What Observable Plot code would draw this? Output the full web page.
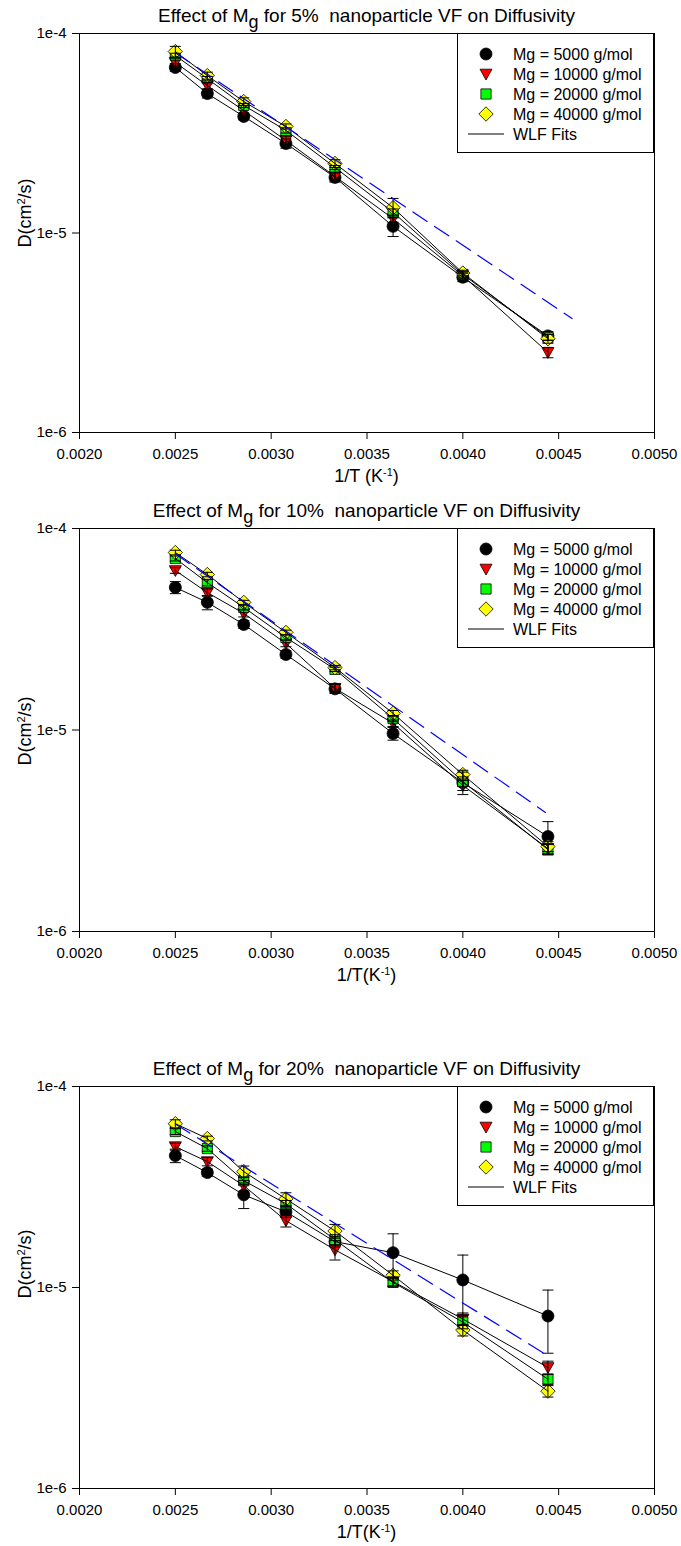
<!DOCTYPE html>
<html><head><meta charset="utf-8">
<script src="https://cdn.jsdelivr.net/npm/d3@7"></script>
<script src="https://cdn.jsdelivr.net/npm/@observablehq/plot@0.6"></script>
<style>
body{margin:0;background:#fff;}
#root{position:relative;width:681px;height:1546px;font-family:"Liberation Sans",Arial,sans-serif;color:#000;overflow:hidden;background:#fff}
.abs{position:absolute;white-space:nowrap;line-height:1}
.panel{position:absolute;left:0}
</style></head><body><div id="root"></div>
<script>
// ---------- data ----------
const invT = [0.0025, 0.002667, 0.002857, 0.003077, 0.003333, 0.003636, 0.004, 0.004444];
const xTicks = [0.002, 0.0025, 0.003, 0.0035, 0.004, 0.0045, 0.005];
const yTicks = [1e-6, 1e-5, 1e-4];
const seriesNames = ["Mg = 5000 g/mol", "Mg = 10000 g/mol", "Mg = 20000 g/mol", "Mg = 40000 g/mol"];
const seriesColors = ["#000000", "#ff0000", "#00ff00", "#ffff00"];
const panelTitles = ["5%", "10%", "20%"];

// 5% VF
const vf5_M5000  = [6.76e-5, 5.0e-5, 3.84e-5, 2.81e-5, 1.90e-5, 1.08e-5, 6.0e-6, 3.05e-6];
const vf5_M10000 = [7.16e-5, 5.48e-5, 4.11e-5, 2.91e-5, 1.92e-5, 1.18e-5, 6.1e-6, 2.52e-6];
const vf5_M20000 = [7.76e-5, 5.94e-5, 4.36e-5, 3.27e-5, 2.13e-5, 1.27e-5, 6.2e-6, 3.0e-6];
const vf5_M40000 = [8.12e-5, 6.15e-5, 4.56e-5, 3.42e-5, 2.23e-5, 1.34e-5, 6.3e-6, 2.95e-6];
const vf5_err5000  = [3e-6, 2.5e-6, 1.5e-6, 1.5e-6, 1.0e-6, 1.2e-6, 3e-7, 1.5e-7];
const vf5_err10000 = [3e-6, 2e-6, 1.5e-6, 1.5e-6, 1.0e-6, 5e-7, 2e-7, 1.5e-7];
const vf5_err20000 = [2e-6, 1.5e-6, 1e-6, 1e-6, 5e-7, 5e-7, 2e-7, 1e-7];
const vf5_err40000 = [5e-6, 2.5e-6, 2e-6, 1e-6, 1e-6, 1.5e-6, 2e-7, 1.5e-7];
const vf5_arrX = [0.0025, 0.00457];
const vf5_arrY = [8.0e-5, 3.73e-6];

// 10% VF
const vf10_M5000  = [5.1e-5, 4.3e-5, 3.34e-5, 2.37e-5, 1.60e-5, 9.6e-6, 5.48e-6, 2.96e-6];
const vf10_M10000 = [6.19e-5, 4.81e-5, 3.79e-5, 2.69e-5, 1.61e-5, 1.08e-5, 5.31e-6, 2.58e-6];
const vf10_M20000 = [7.1e-5, 5.39e-5, 4.06e-5, 2.88e-5, 2.0e-5, 1.14e-5, 5.55e-6, 2.55e-6];
const vf10_M40000 = [7.6e-5, 5.91e-5, 4.3e-5, 3.05e-5, 2.04e-5, 1.21e-5, 6.01e-6, 2.64e-6];
const vf10_err5000  = [3.5e-6, 3.5e-6, 1.5e-6, 1e-6, 8e-7, 7e-7, 7e-7, 5.5e-7];
const vf10_err10000 = [2e-6, 2e-6, 1.5e-6, 1e-6, 8e-7, 4e-7, 3e-7, 1.5e-7];
const vf10_err20000 = [2e-6, 2e-6, 1e-6, 8e-7, 5e-7, 4e-7, 3e-7, 1.5e-7];
const vf10_err40000 = [2e-6, 1.5e-6, 1e-6, 8e-7, 5e-7, 4e-7, 3e-7, 1.5e-7];
const vf10_arrX = [0.0025, 0.004431];
const vf10_arrY = [7.5e-5, 3.9e-6];

// 20% VF
const vf20_M5000  = [4.53e-5, 3.73e-5, 2.89e-5, 2.38e-5, 1.69e-5, 1.49e-5, 1.09e-5, 7.21e-6];
const vf20_M10000 = [5.02e-5, 4.23e-5, 3.21e-5, 2.15e-5, 1.54e-5, 1.07e-5, 6.97e-6, 4.0e-6];
const vf20_M20000 = [5.97e-5, 4.91e-5, 3.40e-5, 2.61e-5, 1.73e-5, 1.06e-5, 6.73e-6, 3.5e-6];
const vf20_M40000 = [6.53e-5, 5.51e-5, 3.77e-5, 2.76e-5, 1.91e-5, 1.15e-5, 6.14e-6, 3.05e-6];
const vf20_err5000  = [3.5e-6, 1.5e-6, 4.2e-6, 1.5e-6, 1e-6, 3.6e-6, 3.6e-6, 2.5e-6];
const vf20_err10000 = [2e-6, 2e-6, 2e-6, 1.5e-6, 1.7e-6, 5e-7, 5e-7, 3e-7];
const vf20_err20000 = [2e-6, 1.5e-6, 1.5e-6, 1e-6, 1e-6, 5e-7, 5e-7, 2e-7];
const vf20_err40000 = [3e-6, 1.5e-6, 2.5e-6, 2e-6, 1.5e-6, 6e-7, 4e-7, 2e-7];
const vf20_arrX = [0.0025, 0.004431];
const vf20_arrY = [6.5e-5, 4.65e-6];

// ---------- symbols ----------
const symCircle = {draw(ctx, size){ const r = Math.sqrt(size/Math.PI); ctx.moveTo(r,0); ctx.arc(0,0,r,0,2*Math.PI); }};
const symTriDown = {draw(ctx, size){ const r = Math.sqrt(size/Math.PI); ctx.moveTo(-r,-0.8*r); ctx.lineTo(r,-0.8*r); ctx.lineTo(0,r); ctx.closePath(); }};
const symSquare = {draw(ctx, size){ const r = Math.sqrt(size/Math.PI)*0.85; ctx.rect(-r,-r,2*r,2*r); }};
const symDiamond = {draw(ctx, size){ const r = Math.sqrt(size/Math.PI)*1.2; ctx.moveTo(0,-r); ctx.lineTo(r,0); ctx.lineTo(0,r); ctx.lineTo(-r,0); ctx.closePath(); }};
const symCap = {draw(ctx, size){ const r = Math.sqrt(size/Math.PI)*0.92; ctx.moveTo(-r,0); ctx.lineTo(r,0); }};
const seriesSymbols = [symCircle, symTriDown, symSquare, symDiamond];

const panels = [
  {svgTop: 0, height: 492, plotH: 399, title: panelTitles[0], xlab: "1/T (K", ylabC: 213,
   series: [vf5_M5000, vf5_M10000, vf5_M20000, vf5_M40000],
   errs: [vf5_err5000, vf5_err10000, vf5_err20000, vf5_err40000], bx: vf5_arrX, by: vf5_arrY},
  {svgTop: 495, height: 496, plotH: 403, title: panelTitles[1], xlab: "1/T(K", ylabC: 731,
   series: [vf10_M5000, vf10_M10000, vf10_M20000, vf10_M40000],
   errs: [vf10_err5000, vf10_err10000, vf10_err20000, vf10_err40000], bx: vf10_arrX, by: vf10_arrY},
  {svgTop: 1053, height: 493, plotH: 402, title: panelTitles[2], xlab: "1/T(K", ylabC: 1264,
   series: [vf20_M5000, vf20_M10000, vf20_M20000, vf20_M40000],
   errs: [vf20_err5000, vf20_err10000, vf20_err20000, vf20_err40000], bx: vf20_arrX, by: vf20_arrY}
];

const root = document.getElementById("root");
const ML = 79, MR = 27, MT = 33, W = 681;
const plotCx = (ML + W - MR) / 2;

function addText(html, style) {
  const d = document.createElement("div");
  d.className = "abs";
  d.innerHTML = html;
  Object.assign(d.style, style);
  root.appendChild(d);
  return d;
}

panels.forEach(p => {
  const rows = [];
  p.series.forEach((vals, i) => vals.forEach((v, j) => rows.push({s: i, x: invT[j], y: v, lo: v - p.errs[i][j], hi: v + p.errs[i][j]})));
  const marks = [
    Plot.frame({stroke: "#000", strokeWidth: 1}),
    Plot.axisX({ticks: xTicks, tickFormat: d3.format(".4f"), tickSize: 7, tickPadding: 9, fontSize: 15, label: null}),
    Plot.axisY({ticks: yTicks, tickFormat: d => "1e" + Math.round(Math.log10(d)), tickSize: 7, tickPadding: 6, fontSize: 15, label: null})
  ];
  for (let i = 0; i < 4; i++) {
    marks.push(Plot.dot(rows.filter(d => d.s === i), {x: "x", y: "y", r: 6, symbol: seriesSymbols[i], fill: seriesColors[i], stroke: "#000", strokeWidth: 0.8}));
  }
  marks.push(Plot.ruleX(rows, {x: "x", y1: "lo", y2: "hi", stroke: "#000", strokeWidth: 1}));
  marks.push(Plot.dot(rows, {x: "x", y: "hi", r: 6, symbol: symCap, fill: "none", stroke: "#000", strokeWidth: 1}));
  marks.push(Plot.dot(rows, {x: "x", y: "lo", r: 6, symbol: symCap, fill: "none", stroke: "#000", strokeWidth: 1}));
  marks.push(Plot.line(rows, {x: "x", y: "y", z: "s", stroke: "#000", strokeWidth: 1}));
  marks.push(Plot.line(p.bx, {x: p.bx, y: p.by, stroke: "#0000ff", strokeWidth: 1.2, strokeDasharray: "17,9"}));

  const svg = Plot.plot({
    width: W, height: p.height,
    marginLeft: ML, marginRight: MR, marginTop: MT, marginBottom: p.height - MT - p.plotH,
    x: {domain: [0.002, 0.005], label: null},
    y: {type: "log", domain: [1e-6, 1e-4], label: null},
    style: {fontFamily: '"Liberation Sans", Arial, sans-serif', fontSize: "15px", color: "#000", background: "transparent", overflow: "visible"},
    marks
  });
  const wrap = document.createElement("div");
  wrap.className = "panel";
  wrap.style.top = p.svgTop + "px";
  wrap.appendChild(svg);
  root.appendChild(wrap);

  const plotTop = p.svgTop + MT;
  const plotBottom = plotTop + p.plotH;

  // title
  addText(`Effect of M<span style="position:relative;top:0.33em;font-size:0.95em">g</span> for ${p.title}&nbsp; nanoparticle VF on Diffusivity`,
    {left: ML + "px", width: (W - MR - ML) + "px", textAlign: "center", top: (plotTop - 11 - 16) + "px", fontSize: "19px"});
  // x label
  addText(`${p.xlab}<span style="position:relative;top:-0.55em;font-size:0.6em">-1</span>)`,
    {left: ML + "px", width: (W - MR - ML) + "px", textAlign: "center", top: (plotBottom + 50 - 15) + "px", fontSize: "18px"});
  // y label
  addText(`D(cm<span style="position:relative;top:-0.5em;font-size:0.62em">2</span>/s)`,
    {left: "24.5px", top: p.ylabC + "px", fontSize: "18px", transform: "translate(-50%,-50%) rotate(-90deg)"});

  // legend
  const lg = document.createElement("div");
  lg.className = "abs";
  Object.assign(lg.style, {left: "457px", top: plotTop + "px", width: "197px", height: "120px", border: "1px solid #000", boxSizing: "border-box", background: "#fff"});
  const ns = "http://www.w3.org/2000/svg";
  const ls = document.createElementNS(ns, "svg");
  ls.setAttribute("width", 197); ls.setAttribute("height", 120);
  ls.style.position = "absolute"; ls.style.left = "-1px"; ls.style.top = "-1px";
  const sz = Math.PI * 36;
  seriesNames.forEach((name, i) => {
    const cy = 21 + 20 * i;
    const path = document.createElementNS(ns, "path");
    path.setAttribute("d", d3.symbol().type(seriesSymbols[i]).size(sz)());
    path.setAttribute("transform", `translate(29,${cy})`);
    path.setAttribute("fill", seriesColors[i]);
    path.setAttribute("stroke", "#000");
    path.setAttribute("stroke-width", 0.8);
    ls.appendChild(path);
    const t = document.createElementNS(ns, "text");
    t.setAttribute("x", 56); t.setAttribute("y", cy); t.setAttribute("dy", "0.35em");
    t.setAttribute("font-size", 16);
    t.setAttribute("font-family", '"Liberation Sans", Arial, sans-serif');
    t.textContent = name;
    ls.appendChild(t);
  });
  const cyW = 21 + 20 * 4;
  const ln = document.createElementNS(ns, "line");
  ln.setAttribute("x1", 11); ln.setAttribute("x2", 47); ln.setAttribute("y1", cyW); ln.setAttribute("y2", cyW);
  ln.setAttribute("stroke", "#000"); ln.setAttribute("stroke-width", 1);
  ls.appendChild(ln);
  const tw = document.createElementNS(ns, "text");
  tw.setAttribute("x", 56); tw.setAttribute("y", cyW); tw.setAttribute("dy", "0.35em");
  tw.setAttribute("font-size", 16);
  tw.setAttribute("font-family", '"Liberation Sans", Arial, sans-serif');
  tw.textContent = "WLF Fits";
  ls.appendChild(tw);
  lg.appendChild(ls);
  root.appendChild(lg);
});
</script>
</body></html>
